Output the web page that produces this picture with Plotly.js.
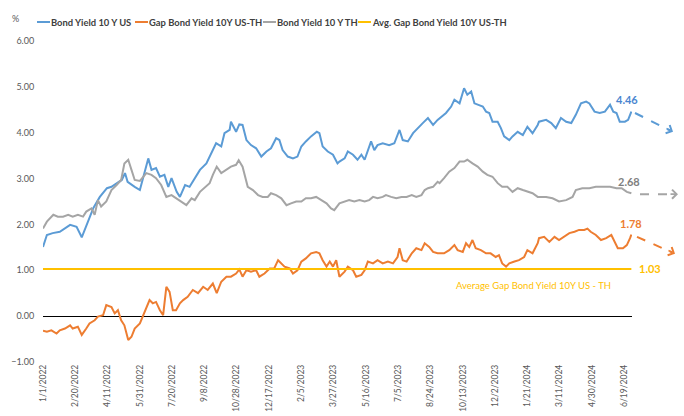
<!DOCTYPE html>
<html><head><meta charset="utf-8">
<script src="https://cdn.plot.ly/plotly-3.0.1.min.js"></script>
<style>html,body{margin:0;padding:0;background:#fff}#chart{width:684px;height:416px}</style>
</head><body><div id="chart"></div>
<script>
const usDates = ['2022-01-01','2022-01-07','2022-01-16','2022-01-27','2022-02-12','2022-02-22','2022-03-02','2022-03-12','2022-03-20','2022-03-30','2022-04-10','2022-04-17','2022-04-25','2022-05-03','2022-05-08','2022-05-12','2022-05-23','2022-05-31','2022-06-13','2022-06-18','2022-06-25','2022-07-01','2022-07-08','2022-07-14','2022-07-19','2022-07-27','2022-08-01','2022-08-09','2022-08-16','2022-08-24','2022-09-01','2022-09-11','2022-09-19','2022-09-26','2022-10-04','2022-10-09','2022-10-17','2022-10-19','2022-10-27','2022-11-01','2022-11-06','2022-11-12','2022-11-19','2022-11-27','2022-12-05','2022-12-13','2022-12-20','2022-12-28','2023-01-02','2023-01-07','2023-01-15','2023-01-23','2023-01-30','2023-02-05','2023-02-12','2023-02-20','2023-03-01','2023-03-05','2023-03-10','2023-03-18','2023-03-26','2023-04-02','2023-04-05','2023-04-13','2023-04-18','2023-04-26','2023-05-03','2023-05-09','2023-05-14','2023-05-24','2023-05-29','2023-06-03','2023-06-11','2023-06-21','2023-06-29','2023-07-07','2023-07-12','2023-07-20','2023-07-28','2023-08-04','2023-08-12','2023-08-20','2023-08-28','2023-09-04','2023-09-17','2023-09-25','2023-09-30','2023-10-08','2023-10-15','2023-10-20','2023-10-26','2023-10-31','2023-11-05','2023-11-13','2023-11-18','2023-11-23','2023-11-28','2023-12-06','2023-12-11','2023-12-16','2023-12-24','2023-12-29','2024-01-06','2024-01-14','2024-01-21','2024-01-29','2024-02-06','2024-02-08','2024-02-19','2024-02-27','2024-03-05','2024-03-13','2024-03-21','2024-03-29','2024-04-05','2024-04-13','2024-04-21','2024-04-26','2024-05-04','2024-05-12','2024-05-20','2024-05-28','2024-06-02','2024-06-07','2024-06-12','2024-06-20','2024-06-25','2024-06-30'];
const usYield = [1.51,1.77,1.81,1.84,1.99,1.95,1.72,2.10,2.36,2.60,2.79,2.82,2.90,2.97,3.12,2.93,2.82,2.75,3.44,3.19,3.23,3.04,3.08,2.82,3.01,2.71,2.60,2.86,2.82,3.01,3.19,3.33,3.55,3.77,3.70,3.99,4.06,4.24,4.02,4.18,4.17,3.84,3.73,3.66,3.48,3.59,3.66,3.88,3.84,3.62,3.48,3.44,3.48,3.70,3.81,3.92,4.02,3.99,3.70,3.59,3.52,3.33,3.37,3.44,3.59,3.52,3.41,3.52,3.41,3.81,3.62,3.73,3.77,3.73,3.77,4.06,3.84,3.81,3.99,4.10,4.21,4.32,4.17,4.28,4.43,4.57,4.72,4.64,4.97,4.83,4.90,4.64,4.61,4.57,4.46,4.43,4.24,4.24,4.10,3.92,3.84,3.92,4.02,3.95,4.13,3.99,4.17,4.24,4.28,4.21,4.10,4.32,4.24,4.21,4.39,4.64,4.68,4.64,4.46,4.43,4.46,4.61,4.46,4.43,4.24,4.24,4.28,4.46];

const thDates = ['2022-01-01','2022-01-07','2022-01-17','2022-01-24','2022-02-01','2022-02-09','2022-02-16','2022-02-24','2022-03-04','2022-03-09','2022-03-17','2022-03-22','2022-03-27','2022-04-01','2022-04-09','2022-04-17','2022-04-25','2022-05-02','2022-05-07','2022-05-13','2022-05-18','2022-05-23','2022-05-31','2022-06-10','2022-06-18','2022-06-25','2022-07-03','2022-07-11','2022-07-19','2022-07-26','2022-08-03','2022-08-11','2022-08-19','2022-08-24','2022-09-01','2022-09-08','2022-09-16','2022-09-21','2022-09-27','2022-10-04','2022-10-12','2022-10-19','2022-10-27','2022-10-31','2022-11-06','2022-11-14','2022-11-22','2022-11-30','2022-12-07','2022-12-15','2022-12-20','2022-12-28','2023-01-05','2023-01-13','2023-01-20','2023-01-28','2023-02-05','2023-02-12','2023-02-20','2023-02-28','2023-03-08','2023-03-16','2023-03-23','2023-03-28','2023-04-05','2023-04-13','2023-04-20','2023-04-28','2023-05-06','2023-05-14','2023-05-21','2023-05-27','2023-06-03','2023-06-11','2023-06-16','2023-06-24','2023-07-02','2023-07-10','2023-07-18','2023-07-26','2023-08-02','2023-08-10','2023-08-15','2023-08-20','2023-08-28','2023-09-04','2023-09-07','2023-09-14','2023-09-22','2023-09-30','2023-10-08','2023-10-15','2023-10-20','2023-10-28','2023-11-05','2023-11-13','2023-11-20','2023-11-28','2023-12-06','2023-12-13','2023-12-21','2023-12-29','2024-01-06','2024-01-14','2024-01-21','2024-01-29','2024-02-06','2024-02-19','2024-02-29','2024-03-10','2024-03-21','2024-03-31','2024-04-05','2024-04-15','2024-04-26','2024-05-06','2024-05-16','2024-05-28','2024-06-07','2024-06-15','2024-06-23','2024-06-30'];
const thYield = [1.91,2.06,2.21,2.17,2.17,2.21,2.17,2.21,2.17,2.28,2.35,2.21,2.53,2.39,2.50,2.75,2.86,2.97,3.33,3.41,3.19,2.97,2.95,3.12,3.08,3.01,2.86,2.60,2.64,2.57,2.50,2.42,2.57,2.53,2.71,2.79,2.90,3.08,3.26,3.12,3.19,3.26,3.30,3.40,3.26,2.82,2.75,2.64,2.60,2.60,2.68,2.64,2.57,2.42,2.46,2.50,2.50,2.57,2.57,2.60,2.53,2.46,2.35,2.31,2.46,2.50,2.53,2.50,2.53,2.50,2.53,2.60,2.57,2.60,2.64,2.60,2.57,2.60,2.60,2.64,2.60,2.64,2.75,2.79,2.82,2.93,2.90,3.01,3.15,3.23,3.37,3.37,3.41,3.33,3.26,3.15,3.08,3.04,2.90,2.82,2.82,2.71,2.79,2.75,2.71,2.68,2.60,2.60,2.57,2.50,2.53,2.60,2.75,2.79,2.79,2.82,2.82,2.82,2.79,2.79,2.71,2.68];

const gapDates = ['2022-01-01','2022-01-07','2022-01-14','2022-01-22','2022-01-27','2022-02-04','2022-02-12','2022-02-16','2022-02-24','2022-03-02','2022-03-09','2022-03-14','2022-03-22','2022-03-27','2022-04-04','2022-04-09','2022-04-17','2022-04-22','2022-04-27','2022-05-02','2022-05-07','2022-05-13','2022-05-18','2022-05-23','2022-05-31','2022-06-05','2022-06-10','2022-06-15','2022-06-20','2022-06-25','2022-07-01','2022-07-06','2022-07-11','2022-07-16','2022-07-21','2022-07-26','2022-08-01','2022-08-06','2022-08-13','2022-08-21','2022-08-29','2022-09-06','2022-09-13','2022-09-21','2022-09-27','2022-10-04','2022-10-12','2022-10-19','2022-10-27','2022-11-01','2022-11-06','2022-11-12','2022-11-19','2022-11-27','2022-12-02','2022-12-10','2022-12-18','2022-12-25','2022-12-31','2023-01-05','2023-01-10','2023-01-18','2023-01-23','2023-01-30','2023-02-05','2023-02-12','2023-02-20','2023-02-28','2023-03-05','2023-03-10','2023-03-16','2023-03-21','2023-03-26','2023-03-31','2023-04-05','2023-04-13','2023-04-18','2023-04-26','2023-05-01','2023-05-09','2023-05-14','2023-05-19','2023-05-27','2023-06-03','2023-06-11','2023-06-19','2023-06-27','2023-07-04','2023-07-07','2023-07-12','2023-07-18','2023-07-26','2023-08-02','2023-08-10','2023-08-15','2023-08-22','2023-08-28','2023-09-04','2023-09-14','2023-09-22','2023-09-30','2023-10-05','2023-10-13','2023-10-18','2023-10-23','2023-10-28','2023-11-02','2023-11-10','2023-11-18','2023-11-25','2023-12-03','2023-12-08','2023-12-13','2023-12-19','2023-12-24','2024-01-01','2024-01-08','2024-01-16','2024-01-21','2024-01-29','2024-02-06','2024-02-08','2024-02-16','2024-02-24','2024-03-03','2024-03-10','2024-03-18','2024-03-26','2024-04-03','2024-04-10','2024-04-18','2024-04-23','2024-04-28','2024-05-06','2024-05-14','2024-05-22','2024-05-30','2024-06-04','2024-06-09','2024-06-17','2024-06-23','2024-06-28','2024-06-30'];
const gapYield = [-0.32,-0.34,-0.31,-0.38,-0.31,-0.27,-0.20,-0.27,-0.23,-0.41,-0.27,-0.16,-0.09,-0.01,0.02,0.24,0.20,0.06,0.13,-0.09,-0.20,-0.52,-0.45,-0.27,-0.16,0.02,0.20,0.35,0.28,0.31,0.13,0.02,0.64,0.53,0.13,0.13,0.28,0.35,0.42,0.57,0.50,0.64,0.57,0.71,0.50,0.75,0.86,0.86,0.93,1.02,0.86,1.00,0.97,1.00,0.86,0.93,1.04,1.04,1.22,1.15,1.08,1.04,0.93,1.00,1.19,1.26,1.37,1.40,1.37,1.22,1.08,1.19,1.08,1.22,0.86,0.97,1.08,1.00,0.86,0.90,1.00,1.19,1.15,1.22,1.15,1.19,1.15,1.29,1.48,1.22,1.19,1.37,1.48,1.44,1.59,1.51,1.40,1.37,1.37,1.44,1.55,1.44,1.40,1.59,1.51,1.66,1.48,1.44,1.37,1.37,1.29,1.33,1.15,1.08,1.15,1.19,1.22,1.29,1.44,1.37,1.59,1.70,1.73,1.62,1.73,1.66,1.73,1.81,1.84,1.88,1.88,1.91,1.84,1.77,1.66,1.70,1.77,1.62,1.48,1.48,1.55,1.70,1.78];

const avgDates = ['2022-01-01','2024-06-30'];
const avgGap = [1.03,1.03];

const seriesNames = ['Bond Yield 10 Y US','Gap Bond Yield 10Y US-TH','Bond Yield 10 Y TH','Avg. Gap Bond Yield 10Y US-TH'];
const seriesColors = ['#5B9BD5','#ED7D31','#A5A5A5','#FFC000'];
const avgLabel = 'Average Gap Bond Yield 10Y US - TH';

const FONT = 'Lato, "Open Sans", sans-serif';
const last = a => a[a.length-1];

const traces = [
  {x: usDates, y: usYield, name: seriesNames[0], type:'scatter', mode:'lines', line:{color:seriesColors[0], width:2}},
  {x: gapDates, y: gapYield, name: seriesNames[1], type:'scatter', mode:'lines', line:{color:seriesColors[1], width:2}},
  {x: thDates, y: thYield, name: seriesNames[2], type:'scatter', mode:'lines', line:{color:seriesColors[2], width:2}},
  {x: avgDates, y: avgGap, name: seriesNames[3], type:'scatter', mode:'lines', line:{color:seriesColors[3], width:2}}
];

// manual legend (pixel positions converted to paper coordinates)
const L = 43, W = 589, T = 41, H = 321;
const px = v => (v - L) / W;
const py = v => (T + H - v) / H;
const legendX = [37, 135, 263, 358];
const legendOrder = [0, 1, 2, 3];

const shapes = [];
const annotations = [];
legendOrder.forEach((k, i) => {
  shapes.push({type:'line', xref:'paper', yref:'paper', x0:px(legendX[i]), x1:px(legendX[i]+13), y0:py(22), y1:py(22), line:{color:seriesColors[k], width:2}});
  annotations.push({xref:'paper', yref:'paper', x:px(legendX[i]+12), y:py(22), xanchor:'left', yanchor:'middle', text:seriesNames[k], showarrow:false, font:{family:FONT, size:9.4, color:'#404040', weight:'bold'}});
});

function dashArrow(x0,y0,x1,y1,color){
  return {type:'line', xref:'paper', yref:'y', x0:x0, y0:y0, x1:x1, y1:y1, line:{color:color, width:2, dash:'dash'}};
}
function head(x,y,ax,ay,color){
  return {xref:'paper', yref:'y', x:x, y:y, ax:ax, ay:ay, text:'', showarrow:true, arrowhead:4, arrowsize:1.1, arrowwidth:1.6, arrowcolor:color};
}
shapes.push(dashArrow(px(635), 4.43, px(670), 4.05, seriesColors[0]));
shapes.push(dashArrow(px(640), 2.66, px(676), 2.66, seriesColors[2]));
shapes.push(dashArrow(px(637), 1.73, px(672), 1.39, seriesColors[1]));
annotations.push(head(px(673), 4.02, -8, -4, seriesColors[0]));
annotations.push(head(px(678), 2.66, -9, 0, seriesColors[2]));
annotations.push(head(px(675), 1.36, -8, -4, seriesColors[1]));

annotations.push({xref:'paper', yref:'paper', x:px(15), y:py(18), xanchor:'center', yanchor:'middle', text:'%', showarrow:false, font:{family:FONT, size:9, color:'#595959'}});
annotations.push({xref:'paper', yref:'y', x:px(627), y:4.72, xanchor:'center', yanchor:'middle', text:last(usYield).toFixed(2), showarrow:false, font:{family:FONT, size:11, color:'#4A86D0', weight:'bold'}});
annotations.push({xref:'paper', yref:'y', x:px(629), y:2.93, xanchor:'center', yanchor:'middle', text:last(thYield).toFixed(2), showarrow:false, font:{family:FONT, size:11, color:'#7F7F7F', weight:'bold'}});
annotations.push({xref:'paper', yref:'y', x:px(631), y:2.03, xanchor:'center', yanchor:'middle', text:last(gapYield).toFixed(2), showarrow:false, font:{family:FONT, size:11, color:'#ED7D31', weight:'bold'}});
annotations.push({xref:'paper', yref:'y', x:px(637), y:1.03, xanchor:'left', yanchor:'middle', text:last(avgGap).toFixed(2), showarrow:false, font:{family:FONT, size:11, color:'#FFC000', weight:'bold'}});
annotations.push({xref:'paper', yref:'y', x:px(533), y:0.66, xanchor:'center', yanchor:'middle', text:avgLabel, showarrow:false, font:{family:FONT, size:9.5, color:'#FFC000'}});

const layout = {
  width:684, height:416,
  paper_bgcolor:'#ffffff', plot_bgcolor:'#ffffff',
  margin:{l:L, r:684-L-W, t:T, b:416-T-H},
  font:{family:FONT, size:9, color:'#595959'},
  showlegend:false,
  xaxis:{type:'date', range:['2022-01-01','2024-07-01'], tick0:'2022-01-01', dtick:50*86400000, tickformat:'%-m/%-d/%Y', tickangle:-90, showgrid:false, showline:false, zeroline:false, ticks:'', automargin:false, tickfont:{family:FONT, size:8.5, color:'#595959'}},
  yaxis:{range:[-1,6], dtick:1, tickformat:'.2f', showgrid:false, showline:false, zeroline:true, zerolinecolor:'#000000', zerolinewidth:1, ticks:'outside', ticklen:6, tickcolor:'rgba(0,0,0,0)', automargin:false, tickfont:{family:FONT, size:9, color:'#595959'}},
  shapes:shapes,
  annotations:annotations
};

Plotly.newPlot('chart', traces, layout, {displayModeBar:false, staticPlot:true});
</script>
</body></html>
